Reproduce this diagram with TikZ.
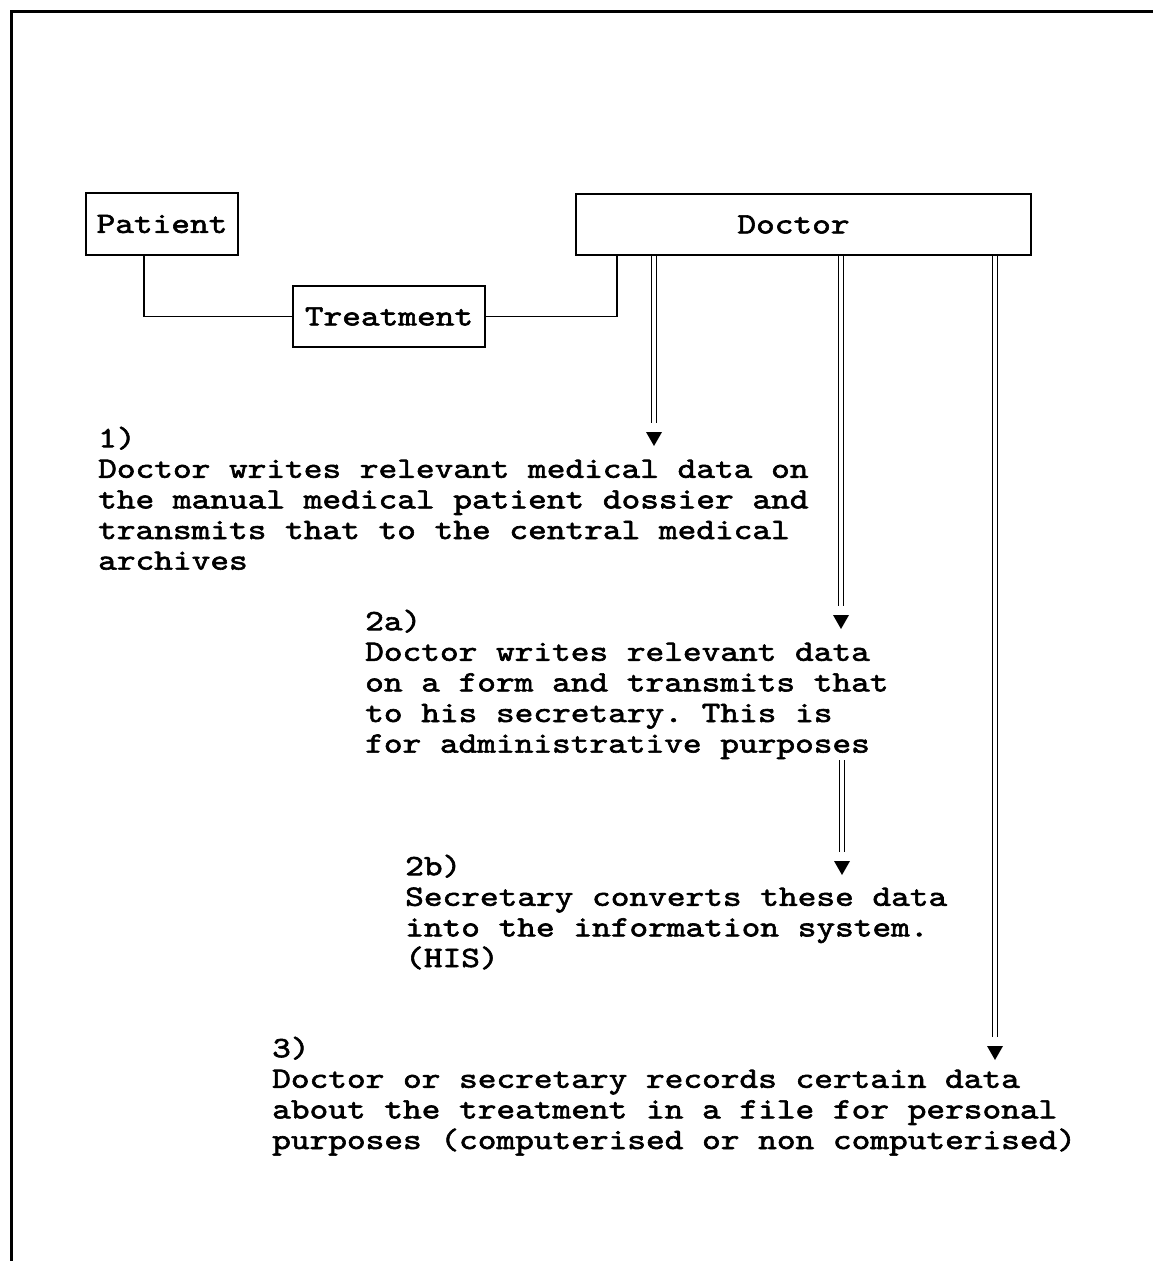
\documentclass[tikz,border=0pt]{standalone}
\usepackage{fontspec}
\setmonofont{lmmono10-regular}[Extension=.otf,FakeStretch=1.207,FakeBold=2]
\newcommand\mytt{\fontsize{29.5}{30.6}\selectfont\ttfamily}
\newcommand\mystrut{\rule{0pt}{22pt}}
\begin{document}
\begin{tikzpicture}[x=1pt,y=-1pt,
  box/.style={draw,line width=2.4pt,inner sep=0pt,font=\mytt},
  link/.style={line width=1.5pt},
  dbl/.style={draw,line width=1.8pt,double distance=3.2pt},
  txt/.style={anchor=north west,inner sep=0pt,align=left,font=\mytt}]
\useasboundingbox (0,0) rectangle (1153,1261);
\fill[white] (0,0) rectangle (1153,1261);
% frame
\draw[line width=3pt] (1153,11) -- (11,11) -- (11,1261);
% boxes
\node[box,minimum width=152pt,minimum height=62pt] (patient) at (162,224) {Patient};
\node[box,minimum width=192pt,minimum height=61pt] (treat) at (389,316.5) {Treatment};
\node[box,minimum width=455pt,minimum height=61pt] (doctor) at (803.5,224.5) {Doctor\hspace*{20pt}};
% links
\draw[link] ([xshift=-18pt]patient.south) |- (treat.west);
\draw[link] (treat.east) -| ([xshift=-186.5pt]doctor.south);
% text blocks
\node[txt] (t1) at (98,425) {\mystrut1)\\Doctor writes relevant medical data on\\the manual medical patient dossier and\\transmits that to the central medical\\archives};
\node[txt] (t2a) at (365,608) {\mystrut2a)\\Doctor writes relevant data\\on a form and transmits that\\to his secretary. This is\\for administrative purposes};
\node[txt] (t2b) at (405,853) {\mystrut2b)\\Secretary converts these data\\into the information system.\\(HIS)};
\node[txt] (t3) at (272,1035) {\mystrut3)\\Doctor or secretary records certain data\\about the treatment in a file for personal\\purposes (computerised or non computerised)};
% arrow ends
\coordinate (e1) at (654,423);
\coordinate (e2) at (841,606);
\coordinate (e3) at (995,1037);
\coordinate (s4) at (842,760);
\coordinate (e4) at (842,852);
\draw[dbl] (doctor.south -| e1) -- (e1);
\draw[dbl] (doctor.south -| e2) -- (e2);
\draw[dbl] (doctor.south -| e3) -- (e3);
\draw[dbl] (s4) -- (e4);
\foreach \e in {e1,e2,e3,e4}{
  \fill ([shift={(-8,9)}]\e) -- ([shift={(8,9)}]\e) -- ([shift={(0,23)}]\e) -- cycle;
}
\end{tikzpicture}
\end{document}
